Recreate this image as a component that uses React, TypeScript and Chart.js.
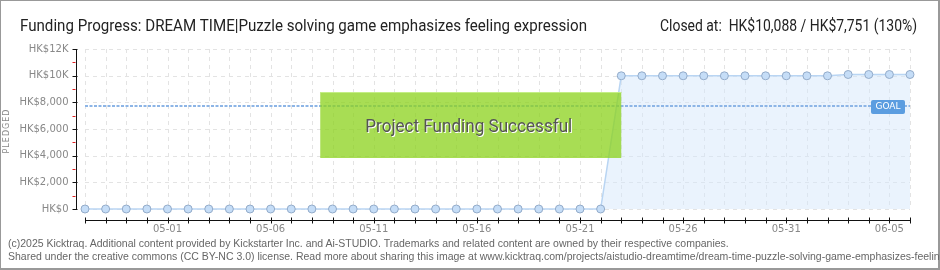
import React, { useEffect, useRef } from 'react';
import { Chart, registerables } from 'chart.js';

Chart.register(...registerables);

const dates = [
  '04-27', '04-28', '04-29', '04-30', '05-01', '05-02', '05-03', '05-04', '05-05', '05-06',
  '05-07', '05-08', '05-09', '05-10', '05-11', '05-12', '05-13', '05-14', '05-15', '05-16',
  '05-17', '05-18', '05-19', '05-20', '05-21', '05-22', '05-23', '05-24', '05-25', '05-26',
  '05-27', '05-28', '05-29', '05-30', '05-31', '06-01', '06-02', '06-03', '06-04', '06-05',
  '06-06',
];

const pledged = [
  0, 0, 0, 0, 0, 0, 0, 0, 0, 0,
  0, 0, 0, 0, 0, 0, 0, 0, 0, 0,
  0, 0, 0, 0, 0, 0, 9990, 9990, 9990, 9990,
  9990, 9990, 9990, 9990, 9990, 9990, 9990, 10088, 10088, 10088,
  10088,
];

const goal = 7751;
const yTickValues = [0, 2000, 4000, 6000, 8000, 10000, 12000];
const yTickLabels = ['HK$0', 'HK$2,000', 'HK$4,000', 'HK$6,000', 'HK$8,000', 'HK$10K', 'HK$12K'];
const yMinorValues = [1000, 3000, 5000, 7000, 9000, 11000];
const xLabelDates = ['05-01', '05-06', '05-11', '05-16', '05-21', '05-26', '05-31', '06-05'];
const fundedDate = '05-23';

const titleText = 'Funding Progress: DREAM TIME|Puzzle solving game emphasizes feeling expression';
const closedText = 'Closed at:  HK$10,088 / HK$7,751 (130%)';
const successText = 'Project Funding Successful';
const yAxisTitle = 'PLEDGED';
const goalText = 'GOAL';
const footerLine1 = '(c)2025 Kicktraq. Additional content provided by Kickstarter Inc. and Ai-STUDIO. Trademarks and related content are owned by their respective companies.';
const footerLine2 = 'Shared under the creative commons (CC BY-NC 3.0) license. Read more about sharing this image at www.kicktraq.com/projects/aistudio-dreamtime/dream-time-puzzle-solving-game-emphasizes-feeling-expression/';

const tickFont = '10px "DejaVu Sans"';
const headFont = 'Roboto, sans-serif';

function fitText(ctx: any, text: string, font: string, x: number, baseline: number, width: number, align: string) {
  ctx.save();
  ctx.font = font;
  ctx.textAlign = 'left';
  ctx.textBaseline = 'alphabetic';
  const w = ctx.measureText(text).width;
  const s = width / w;
  const left = align === 'right' ? x - width : align === 'center' ? x - width / 2 : x;
  ctx.translate(left, baseline);
  ctx.scale(s, 1);
  ctx.fillText(text, 0, 0);
  ctx.restore();
}

const decorPlugin = {
  id: 'decor',
  beforeDatasetsDraw(chart: any) {
    const { ctx, chartArea: a, scales } = chart;
    const x = scales.x;
    const y = scales.y;
    ctx.save();
    ctx.strokeStyle = '#e3e3e3';
    ctx.lineWidth = 1;
    ctx.setLineDash([4, 4]);
    dates.forEach((_d, i) => {
      const px = Math.round(x.getPixelForValue(i)) + 0.5;
      ctx.beginPath();
      ctx.moveTo(px, a.top);
      ctx.lineTo(px, a.bottom);
      ctx.stroke();
    });
    yTickValues.forEach((v) => {
      const py = Math.round(y.getPixelForValue(v)) + 0.5;
      ctx.beginPath();
      ctx.moveTo(a.left, py);
      ctx.lineTo(a.right, py);
      ctx.stroke();
    });
    ctx.restore();
  },
  afterDatasetsDraw(chart: any) {
    const { ctx, chartArea: a, scales } = chart;
    const x = scales.x;
    const y = scales.y;
    ctx.save();

    // title texts
    ctx.fillStyle = '#222';
    fitText(ctx, titleText, '16px ' + headFont, 20, 31, 567, 'left');
    fitText(ctx, closedText, '16px ' + headFont, 917, 31, 257, 'right');

    // goal line
    const gy = Math.round(y.getPixelForValue(goal));
    ctx.strokeStyle = '#8db5e6';
    ctx.lineWidth = 2;
    ctx.setLineDash([3, 1.5]);
    ctx.beginPath();
    ctx.moveTo(a.left, gy);
    ctx.lineTo(a.right, gy);
    ctx.stroke();
    ctx.setLineDash([]);

    // success box
    const boxRight = x.getPixelForValue(dates.indexOf(fundedDate));
    const boxLeft = boxRight - 301;
    const boxTop = a.top + 43;
    const boxH = 66;
    ctx.fillStyle = 'rgba(140,210,30,0.76)';
    ctx.fillRect(boxLeft, boxTop, boxRight - boxLeft, boxH);
    ctx.fillStyle = 'rgba(200,240,140,0.9)';
    ctx.fillRect(boxLeft, boxTop, boxRight - boxLeft, 1);
    const cx = (boxLeft + boxRight) / 2 - 2;
    ctx.fillStyle = '#ffffff';
    fitText(ctx, successText, '18px ' + headFont, cx + 1, 132.5, 207, 'center');
    ctx.fillStyle = '#555555';
    fitText(ctx, successText, '18px ' + headFont, cx, 131.5, 207, 'center');

    // goal label
    const lx = a.right - 39;
    ctx.fillStyle = '#5b9de0';
    ctx.beginPath();
    (ctx as any).roundRect(lx, gy - 6, 34, 14, 2);
    ctx.fill();
    ctx.fillStyle = '#ffffff';
    ctx.font = '9px "DejaVu Sans"';
    ctx.textAlign = 'center';
    ctx.textBaseline = 'middle';
    ctx.fillText(goalText, lx + 17, gy + 1);

    // y axis
    const axX = a.left - 8.5;
    ctx.strokeStyle = '#111';
    ctx.lineWidth = 1;
    ctx.beginPath();
    ctx.moveTo(axX, a.top);
    ctx.lineTo(axX, a.bottom + 1);
    ctx.stroke();
    yTickValues.forEach((v) => {
      const py = Math.round(y.getPixelForValue(v)) + 0.5;
      ctx.beginPath();
      ctx.moveTo(axX - 4, py);
      ctx.lineTo(axX + 1, py);
      ctx.stroke();
    });
    ctx.strokeStyle = '#e02020';
    yMinorValues.forEach((v) => {
      const py = Math.round(y.getPixelForValue(v)) + 0.5;
      ctx.beginPath();
      ctx.moveTo(axX - 4, py);
      ctx.lineTo(axX - 1, py);
      ctx.stroke();
    });
    ctx.fillStyle = '#888';
    ctx.font = tickFont;
    ctx.textAlign = 'right';
    ctx.textBaseline = 'middle';
    yTickValues.forEach((v, i) => {
      ctx.fillText(yTickLabels[i], axX - 8, y.getPixelForValue(v));
    });

    // y axis title
    ctx.save();
    ctx.translate(7, (a.top + a.bottom) / 2 + 2);
    ctx.rotate(-Math.PI / 2);
    ctx.font = '8px "DejaVu Sans"';
    ctx.fillStyle = '#888';
    ctx.textAlign = 'center';
    ctx.textBaseline = 'middle';
    (ctx as any).letterSpacing = '1px';
    ctx.fillText(yAxisTitle, 0, 0);
    ctx.restore();

    // x axis
    const axY = a.bottom + 11.5;
    ctx.strokeStyle = '#111';
    ctx.beginPath();
    ctx.moveTo(a.left, axY);
    ctx.lineTo(a.right + 1, axY);
    ctx.stroke();
    dates.forEach((_d, i) => {
      const px = Math.round(x.getPixelForValue(i)) + 0.5;
      ctx.beginPath();
      ctx.moveTo(px, axY - 3);
      ctx.lineTo(px, axY + 3);
      ctx.stroke();
    });
    ctx.fillStyle = '#888';
    ctx.font = tickFont;
    ctx.textAlign = 'center';
    ctx.textBaseline = 'middle';
    xLabelDates.forEach((d) => {
      const i = dates.indexOf(d);
      ctx.fillText(d, x.getPixelForValue(i), axY + 9);
    });

    ctx.restore();
  },
};

export default function App() {
  const ref = useRef<HTMLCanvasElement | null>(null);

  useEffect(() => {
    document.body.style.margin = '0';
    if (!ref.current) return;
    const chart = new Chart(ref.current, {
      type: 'line',
      data: {
        labels: dates,
        datasets: [
          {
            data: pledged,
            borderColor: '#b9d5f3',
            borderWidth: 1.5,
            backgroundColor: 'rgba(214,232,252,0.5)',
            fill: 'origin',
            pointRadius: 4,
            pointBackgroundColor: '#c5ddf7',
            pointBorderColor: '#93abc9',
            pointBorderWidth: 1,
            tension: 0,
            clip: false as any,
          },
        ],
      },
      options: {
        responsive: false,
        animation: false,
        devicePixelRatio: 1,
        layout: { padding: { left: 85, right: 30, top: 49, bottom: 61 } },
        plugins: { legend: { display: false }, tooltip: { enabled: false }, title: { display: false } },
        scales: {
          x: { type: 'category', display: false, offset: false },
          y: { display: false, min: 0, max: 12000 },
        },
      },
      plugins: [decorPlugin],
    });
    return () => chart.destroy();
  }, []);

  return (
    <div
      style={{
        position: 'fixed',
        left: 0,
        top: 0,
        width: 940,
        height: 270,
        background: '#fff',
        overflow: 'hidden',
      }}
    >
      <canvas ref={ref} width={940} height={270} style={{ position: 'absolute', left: 0, top: 0, width: 940, height: 270 }} />
      <div
        style={{
          position: 'absolute',
          left: 0,
          top: 0,
          width: 937,
          height: 267,
          borderLeft: '1px solid #999',
          borderTop: '1px solid #999',
          borderRight: '2px solid #999',
          borderBottom: '2px solid #999',
          boxSizing: 'content-box',
          pointerEvents: 'none',
        }}
      />
      <div
        style={{
          position: 'absolute',
          left: 8,
          top: 237,
          font: '10.5px "Liberation Sans", sans-serif',
          lineHeight: '13px',
          color: '#666',
          whiteSpace: 'nowrap',
        }}
      >
        <div>{footerLine1}</div>
        <div>{footerLine2}</div>
      </div>
    </div>
  );
}
